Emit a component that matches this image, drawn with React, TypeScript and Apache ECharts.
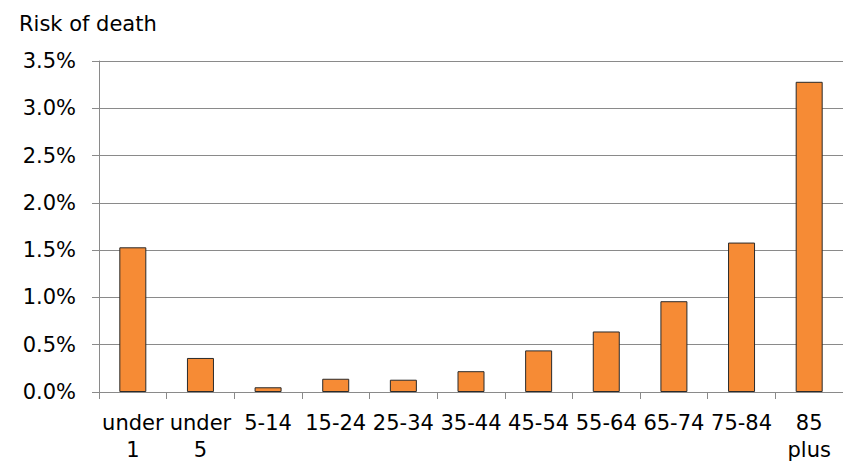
import React, { useEffect, useRef } from "react";
import * as echarts from "echarts";

// Age groups and the risk of death in each, in percent
const ageGroups: string[] = [
  "under 1",
  "under 5",
  "5-14",
  "15-24",
  "25-34",
  "35-44",
  "45-54",
  "55-64",
  "65-74",
  "75-84",
  "85 plus",
];
const riskPercent: number[] = [1.53, 0.36, 0.05, 0.14, 0.13, 0.22, 0.44, 0.64, 0.96, 1.58, 3.28];

const yMin = 0;
const yMax = 3.5;
const yStep = 0.5;

const FONT = "DejaVu Sans";
const GRID_GREY = "#8a8a8a";

export default function App() {
  const ref = useRef<HTMLDivElement>(null);

  useEffect(() => {
    if (!ref.current) return;
    const chart = echarts.init(ref.current, undefined, { renderer: "svg" });
    chart.setOption({
      animation: false,
      backgroundColor: "#ffffff",
      textStyle: { fontFamily: FONT },
      title: {
        text: "Risk of death",
        left: 14,
        top: 8,
        textStyle: { fontFamily: FONT, fontSize: 21, fontWeight: "normal", color: "#000000" },
      },
      grid: { left: 99, right: -7, top: 61, bottom: 67.5, containLabel: false },
      xAxis: {
        type: "category",
        data: ageGroups,
        boundaryGap: true,
        axisLine: { show: true, lineStyle: { color: GRID_GREY, width: 1 } },
        axisTick: { show: true, length: 7, alignWithLabel: false, lineStyle: { color: GRID_GREY } },
        axisLabel: {
          interval: 0,
          margin: 17,
          fontFamily: FONT,
          fontSize: 21,
          lineHeight: 27,
          color: "#000000",
          formatter: (v: string) => v.replace(" ", "\n"),
        },
        splitLine: { show: false },
      },
      yAxis: {
        type: "value",
        min: yMin,
        max: yMax,
        interval: yStep,
        axisLine: { show: true, lineStyle: { color: GRID_GREY, width: 1 } },
        axisTick: { show: true, length: 7, lineStyle: { color: GRID_GREY } },
        axisLabel: {
          margin: 23,
          fontFamily: FONT,
          fontSize: 21,
          color: "#000000",
          formatter: (v: number) => v.toFixed(1) + "%",
        },
        splitLine: { show: true, lineStyle: { color: GRID_GREY, width: 1 } },
      },
      series: [
        {
          type: "bar",
          data: riskPercent,
          barWidth: 27,
          itemStyle: { color: "#f68b35", borderColor: "#2a2a2a", borderWidth: 1 },
        },
      ],
    });
    return () => chart.dispose();
  }, []);

  return (
    <div
      ref={ref}
      style={{ position: "fixed", left: 0, top: 0, width: 843, height: 463 }}
    />
  );
}
